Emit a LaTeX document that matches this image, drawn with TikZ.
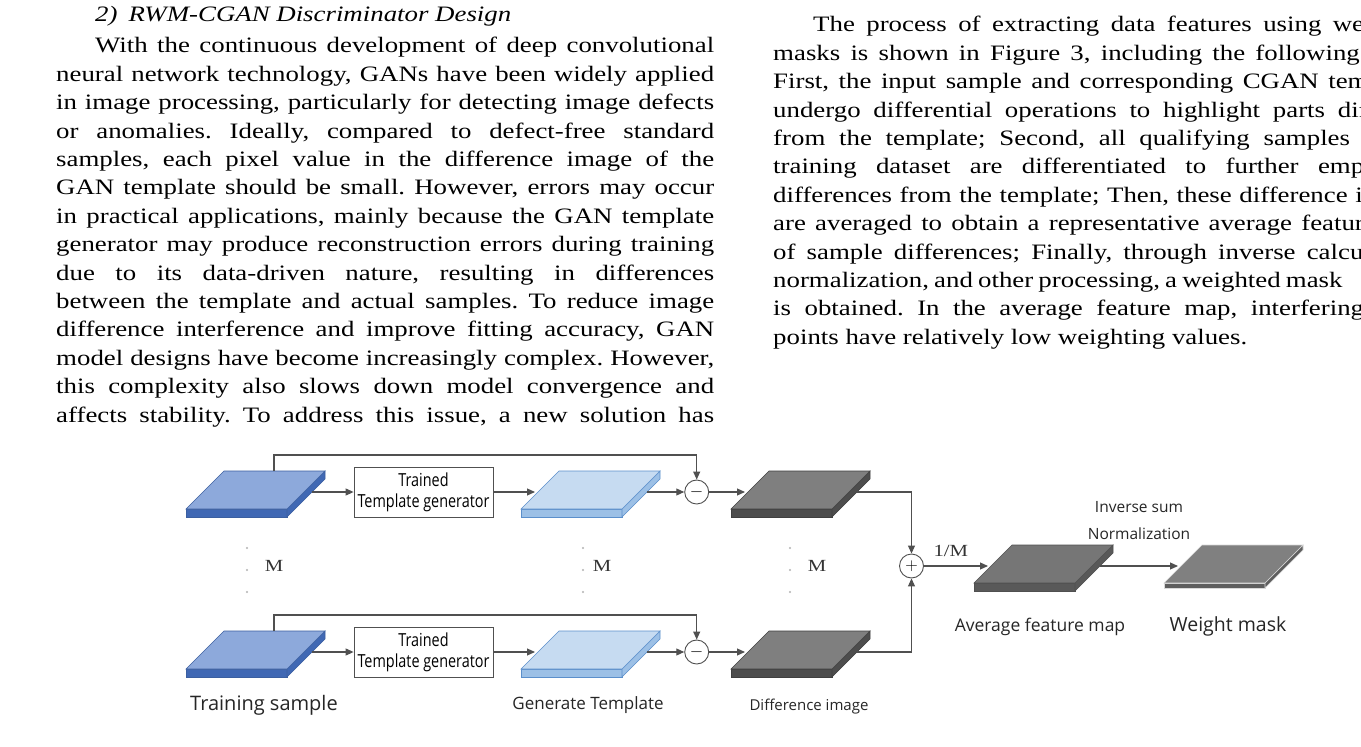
\documentclass[tikz,border=0pt]{standalone}
\usepackage{fontspec}
\setmainfont{Liberation Serif}[FakeStretch=1.22]
\newfontfamily\figfont{Open Sans}
\newfontfamily\figcond{Open Sans}[FakeStretch=0.8]
\usetikzlibrary{arrows.meta,positioning,calc}

\definecolor{linegray}{HTML}{505050}
\definecolor{inTop}{HTML}{8DA9DB}
\definecolor{inSide}{HTML}{4068B4}
\definecolor{inEdge}{HTML}{3B5FA0}
\definecolor{tmpTop}{HTML}{C6DBF1}
\definecolor{tmpSide}{HTML}{9CC0E6}
\definecolor{tmpEdge}{HTML}{5B8FCB}
\definecolor{difTop}{HTML}{7F7F7F}
\definecolor{difSide}{HTML}{4D4D4D}
\definecolor{difEdge}{HTML}{404040}
\definecolor{avgTop}{HTML}{767676}
\definecolor{avgSide}{HTML}{595959}
\definecolor{avgEdge}{HTML}{505050}
\definecolor{wmTop}{HTML}{808080}
\definecolor{wmSide}{HTML}{5E5E5E}
\definecolor{wmEdge}{HTML}{D9D9D9}

\newcommand\bodyfont{\fontsize{22}{28.4}\selectfont\frenchspacing\hyphenpenalty=10000\exhyphenpenalty=10000}

\tikzset{
  pics/slab/.style n args={4}{code={
    \filldraw[fill=#2, draw=#3, line width=0.6pt] (0,0) -- (101,0) -- (101,#4) -- (0,#4) -- cycle;
    \filldraw[fill=#2, draw=#3, line width=0.6pt] (101,0) -- (139,-38) -- (139,-38+#4) -- (101,#4) -- cycle;
    \filldraw[fill=#1, draw=#3, line width=0.6pt] (0,0) -- (101,0) -- (139,-38) -- (38,-38) -- cycle;
    \coordinate (-in) at (14,-17);
    \coordinate (-out) at (126,-17);
    \coordinate (-top) at (88,-38);
  }},
  column/.style={anchor=north west, inner sep=0pt, text width=658pt, align=justify, font=\bodyfont},
  genbox/.style={draw=linegray, line width=0.8pt, minimum width=139pt, minimum height=50pt, inner sep=1pt, align=center, font=\figcond\fontsize{18}{21}\selectfont},
  opnode/.style={circle, draw=linegray, line width=0.9pt, fill=white, minimum size=24pt, inner sep=0pt, font=\fontsize{16}{16}\selectfont},
  flow/.style={->, line width=1.1pt, draw=linegray},
  lbl/.style={inner sep=0pt, text=black!85, font=\figfont\fontsize{17}{20}\selectfont},
  mlbl/.style={inner sep=0pt, text=black!80, font=\fontsize{17}{20}\selectfont},
}

\begin{document}
\begin{tikzpicture}[x=1pt, y=-1pt, >={Triangle[length=8pt,width=7pt]}]
\useasboundingbox (0,0) rectangle (1361,747);
\clip (0,0) rectangle (1361,747);
\fill[white] (0,0) rectangle (1361,747);

% text of the page
\node[anchor=base west, inner sep=0pt, font=\bodyfont\itshape] (title) at (95,21.7) {2)\enspace RWM-CGAN Discriminator Design};
\node[column] (leftcol) at (56,32.8) {\strut\hspace*{39pt}With the continuous development of deep convolutional\linebreak
neural network technology, GANs have been widely applied\linebreak
in image processing, particularly for detecting image defects\linebreak
or anomalies. Ideally, compared to defect-free standard\linebreak
samples, each pixel value in the difference image of the\linebreak
GAN template should be small. However, errors may occur\linebreak
in practical applications, mainly because the GAN template\linebreak
generator may produce reconstruction errors during training\linebreak
due to its data-driven nature, resulting in differences\linebreak
between the template and actual samples. To reduce image\linebreak
difference interference and improve fitting accuracy, GAN\linebreak
model designs have become increasingly complex. However,\linebreak
this complexity also slows down model convergence and\linebreak
affects stability. To address this issue, a new solution has\linebreak};
\node[column] (rightcol) at (773,11.8) {\strut\hspace*{40pt}The process of extracting data features using weighted\linebreak
masks is shown in Figure 3, including the following steps:\linebreak
First, the input sample and corresponding CGAN templates\linebreak
undergo differential operations to highlight parts differing\linebreak
from the template; Second, all qualifying samples in the\linebreak
training dataset are differentiated to further emphasize\linebreak
differences from the template; Then, these difference images\linebreak
are averaged to obtain a representative average feature map\linebreak
of sample differences; Finally, through inverse calculation,\linebreak
normalization, and other processing, a weighted mask \hphantom{(RWM)}\linebreak
is obtained. In the average feature map, interfering pixel\linebreak
points have relatively low weighting values.};

% upper branch
\pic (ts1) at (186,509) {slab={inTop}{inSide}{inEdge}{8}};
\node[genbox] (gen1) at (423.5,492) {Trained\\Template generator};
\pic (gt1) at (521,509) {slab={tmpTop}{tmpSide}{tmpEdge}{8}};
\node[opnode] (minus1) at (696.7,492) {$-$};
\pic (di1) at (731,509) {slab={difTop}{difSide}{difEdge}{8}};

% lower branch
\pic (ts2) at (186,669) {slab={inTop}{inSide}{inEdge}{8}};
\node[genbox] (gen2) at (423.5,652) {Trained\\Template generator};
\pic (gt2) at (521,669) {slab={tmpTop}{tmpSide}{tmpEdge}{8}};
\node[opnode] (minus2) at (696.7,652) {$-$};
\pic (di2) at (731,669) {slab={difTop}{difSide}{difEdge}{8}};

% averaging and mask
\node[opnode] (plus) at (911.5,566) {$+$};
\pic (avg) at (974,583) {slab={avgTop}{avgSide}{avgEdge}{8}};
\pic (wm) at (1164,583) {slab={wmTop}{wmSide}{wmEdge}{5}};

\foreach \i in {1,2} {
  \draw[flow] (ts\i-out) -- (gen\i);
  \draw[flow] (gen\i) -- (gt\i-in);
  \draw[flow] (gt\i-out) -- (minus\i);
  \draw[flow] (minus\i) -- (di\i-in);
  \draw[flow] (ts\i-top) -- ++(0,-16) -| (minus\i);
  \draw[flow] (di\i-out) -| (plus);
}
\draw[flow] (plus) -- node[mlbl, above=9pt, pos=0.42] (invm) {1/M} (avg-in);
\draw[flow] (avg-out) -- node[lbl, above=26pt, align=center, font=\figfont\fontsize{15.5}{27}\selectfont] (norm) {Inverse sum\\Normalization} (wm-in);

% M repetitions
\foreach \x/\m in {247/274, 583/602, 790/817} {
  \foreach \y in {548,570,592}
    \fill[gray!60] (\x,\y) circle (1.1pt);
  \node[mlbl] (rep\x) at (\m,566) {M};
}

% captions
\node[lbl, font=\figfont\fontsize{20}{24}\selectfont] (tslbl) at (264,705) {Training sample};
\node[lbl] (gtlbl) at (588,705) {Generate Template};
\node[lbl, font=\figfont\fontsize{15}{18}\selectfont] (dilbl) at (809,707) {Difference image};
\node[lbl, font=\figfont\fontsize{17.5}{20}\selectfont] (avglbl) at (1040,627) {Average feature map};
\node[lbl, font=\figfont\fontsize{19.5}{22}\selectfont] (wmlbl) at (1228,626) {Weight mask};
\end{tikzpicture}
\end{document}
